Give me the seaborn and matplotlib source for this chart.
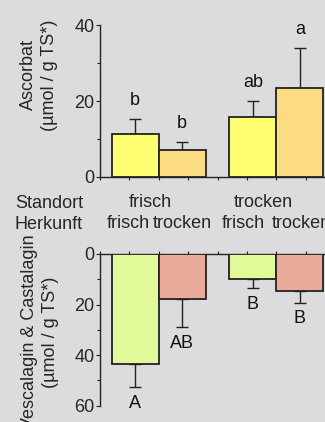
import matplotlib
matplotlib.use("Agg")
import matplotlib.pyplot as plt
import seaborn as sns
import pandas as pd
import numpy as np

# data
standort = ["frisch", "frisch", "trocken", "trocken"]
herkunft = ["frisch", "trocken", "frisch", "trocken"]

ascorbat = [11.4, 7.0, 15.9, 23.4]
ascorbat_err = [3.8, 2.1, 4.0, 10.5]
ascorbat_letters = ["b", "b", "ab", "a"]

vesca = [43.6, 17.7, 10.0, 14.8]
vesca_err = [9.0, 11.3, 3.6, 4.5]
vesca_letters = ["A", "AB", "B", "B"]

standort_labels = ["frisch", "trocken"]
herkunft_labels = ["frisch", "trocken", "frisch", "trocken"]

bg = "#dcdcde"
edge = "#222222"
fs = 13

sns.set_style("ticks")
plt.rcParams["font.family"] = ["Liberation Sans", "DejaVu Sans"]
plt.rcParams["font.size"] = fs

fig = plt.figure(figsize=(3.25, 4.22), dpi=100, facecolor=bg)
ax1 = fig.add_axes([100 / 325, 245 / 422, 235 / 325, 152 / 422])
ax2 = fig.add_axes([100 / 325, 16.3 / 422, 235 / 325, 151.7 / 422])


def draw_panel(ax, values, errs, letters, colors, offset):
    df = pd.DataFrame({"Standort": standort, "Herkunft": herkunft, "wert": values})
    sns.barplot(data=df, x="Standort", y="wert", hue="Herkunft", order=["frisch", "trocken"],
                hue_order=["frisch", "trocken"], palette=colors, saturation=1, errorbar=None,
                edgecolor=edge, linewidth=1.3, ax=ax, legend=False, zorder=3)
    # bar centers, same order as the data rows
    centers = []
    for i in range(len(values)):
        g = ["frisch", "trocken"].index(standort[i])
        h = ["frisch", "trocken"].index(herkunft[i])
        centers.append(g + (h - 0.5) * 0.4)
    ax.errorbar(centers, values, yerr=[np.zeros(len(errs)), errs], fmt="none",
                ecolor=edge, elinewidth=1, capsize=4.5, capthick=1, zorder=2)
    for xc, v, e, t in zip(centers, values, errs, letters):
        ax.text(xc, v + e + offset, t, ha="center", va="center", fontsize=fs, color="#111111")
    ax.set_facecolor(bg)
    ax.set_xlim(-0.5, 1.5)
    ax.set_xticks(np.arange(-0.5, 1.51, 0.25))
    ax.set_xticklabels([])
    ax.set_xlabel("")
    ax.set_ylabel("")
    ax.tick_params(axis="x", length=2.5, width=0.8, color=edge)
    ax.tick_params(axis="y", which="major", length=3, width=0.8, pad=1, labelsize=fs, color=edge)
    ax.tick_params(axis="y", which="minor", length=2, width=0.8, color=edge)
    for s in ax.spines.values():
        s.set_color(edge)
        s.set_linewidth(1)


draw_panel(ax1, ascorbat, ascorbat_err, ascorbat_letters, ["#ffff73", "#fcdc82"], 5)
ax1.set_ylim(0, 40)
ax1.set_yticks([0, 20, 40])
ax1.set_yticks([10, 30], minor=True)
sns.despine(ax=ax1, right=True, top=True)

draw_panel(ax2, vesca, vesca_err, vesca_letters, ["#e2f99a", "#e9aa99"], 6.4)
ax2.set_ylim(60, 0)
ax2.set_yticks([0, 20, 40, 60])
ax2.set_yticks([10, 30, 50], minor=True)
ax2.xaxis.tick_top()
ax2.spines["bottom"].set_visible(False)
ax2.spines["right"].set_visible(False)

# y axis titles
fig.text(39 / 325, 1 - 75 / 422, "Ascorbat\n(µmol / g TS*)", rotation=90,
         ha="center", va="center", fontsize=fs, linespacing=1.3)
fig.text(40 / 325, 1 - 332 / 422, "Vescalagin & Castalagin\n(µmol / g TS*)", rotation=90,
         ha="center", va="center", fontsize=fs, linespacing=1.3)

# category rows between the panels
fig.text(15 / 325, 1 - 203 / 422, "Standort", ha="left", va="center", fontsize=fs)
fig.text(15 / 325, 1 - 224 / 422, "Herkunft", ha="left", va="center", fontsize=fs)
for xc, t in zip([-0.07, 0.89], standort_labels):
    ax1.text(xc, -26 / 152, t, transform=ax1.get_xaxis_transform(), ha="center",
             va="center", fontsize=fs)
for xc, t in zip([-0.26, 0.2, 0.72, 1.21], herkunft_labels):
    ax1.text(xc, -47 / 152, t, transform=ax1.get_xaxis_transform(), ha="center",
             va="center", fontsize=fs)

fig.savefig("out.png", dpi=100, facecolor=bg)
